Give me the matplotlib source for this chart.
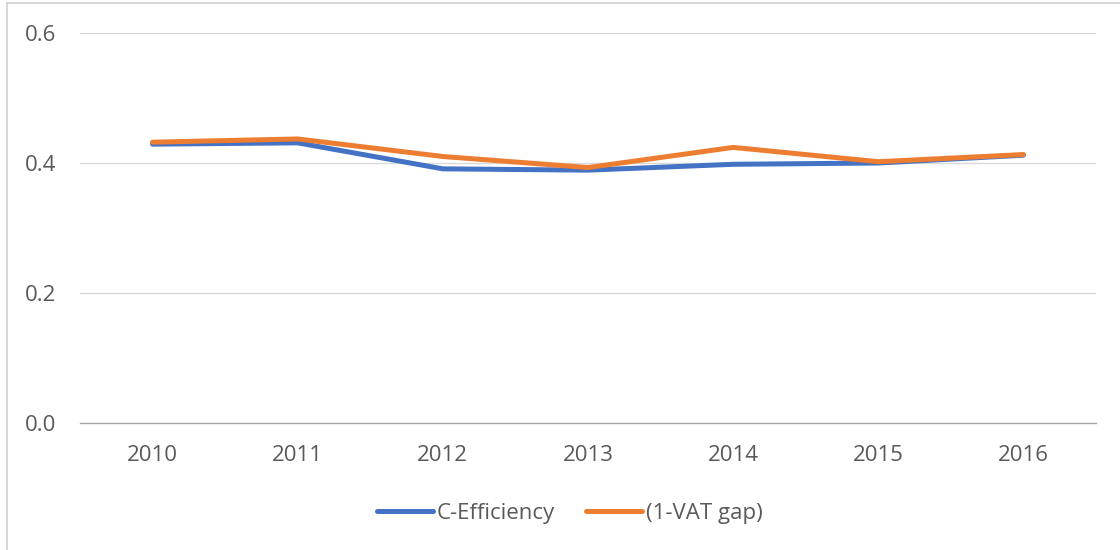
import matplotlib
matplotlib.use("Agg")
import matplotlib.pyplot as plt
from matplotlib.lines import Line2D

years = ["2010", "2011", "2012", "2013", "2014", "2015", "2016"]
c_efficiency = [0.429, 0.431, 0.391, 0.389, 0.398, 0.400, 0.412]
vat_gap = [0.432, 0.437, 0.410, 0.393, 0.424, 0.402, 0.413]
y_ticks = [0.0, 0.2, 0.4, 0.6]

plt.rcParams['font.family'] = ['Open Sans', 'DejaVu Sans']
text_color = "#595959"

fig = plt.figure(figsize=(11.2, 5.5), dpi=100)
ax = fig.add_axes([80/1120, 1-423/550, (1096-80)/1120, (423-33)/550])

x = list(range(len(years)))
ax.plot(x, c_efficiency, color="#4472C4", lw=3.6, solid_capstyle="round", label="C-Efficiency")
ax.plot(x, vat_gap, color="#ED7D31", lw=3.6, solid_capstyle="round", label="(1-VAT gap)")

ax.set_xlim(-0.5, len(years) - 0.5)
ax.set_ylim(0, 0.6)
ax.set_xticks(x)
ax.set_xticklabels(years)
ax.set_yticks(y_ticks)
ax.set_yticklabels([f"{v:.1f}" for v in y_ticks])
ax.tick_params(axis="both", length=0, labelsize=16, labelcolor=text_color)
ax.tick_params(axis="y", pad=17)
ax.tick_params(axis="x", pad=16)
for s in ["left", "right", "top"]:
    ax.spines[s].set_visible(False)
ax.spines["bottom"].set_color("#A6A6A6")
ax.spines["bottom"].set_linewidth(1.0)
ax.grid(axis="y", color="#D9D9D9", lw=1.0)
ax.set_axisbelow(True)

leg = fig.legend(loc="center", bbox_to_anchor=(570/1120, 1-513/550), ncol=2, frameon=False,
                 fontsize=16, handlelength=2.5, handletextpad=0.2, columnspacing=1.4)
for t in leg.get_texts():
    t.set_color(text_color)

# outer chart frame (left and top edges visible)
fig.add_artist(Line2D([7/1120, 7/1120], [0, 1-3/550], transform=fig.transFigure, color="#D0D0D0", lw=1.2))
fig.add_artist(Line2D([7/1120, 1], [1-3/550, 1-3/550], transform=fig.transFigure, color="#D0D0D0", lw=1.2))

fig.savefig("out.png", dpi=100)
